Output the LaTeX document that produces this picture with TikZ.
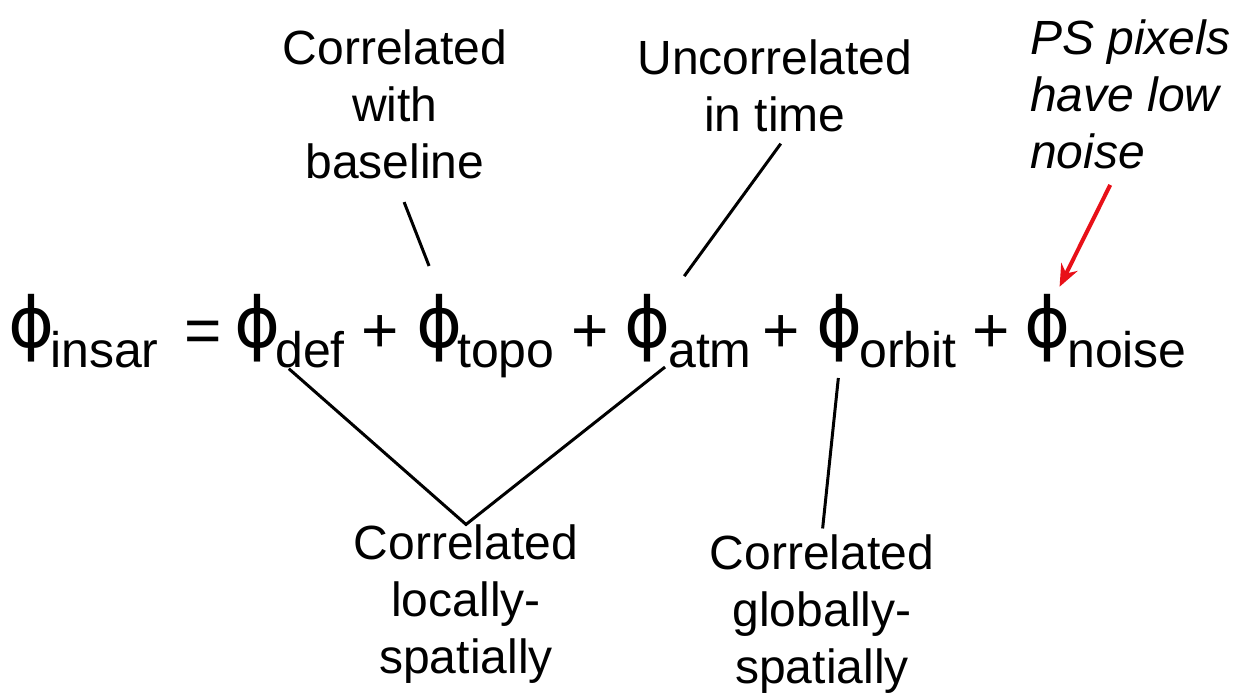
\documentclass[tikz,border=0pt]{standalone}
\usepackage{fontspec}
\setmainfont{Liberation Sans}
\newfontfamily\phifont{DejaVu Sans}
\usetikzlibrary{arrows.meta}
\definecolor{notered}{RGB}{232,16,24}

\begin{document}
\begin{tikzpicture}[x=1pt, y=-1pt,
    term/.style={font=\phifont\fontsize{70}{70}\selectfont, inner sep=0pt, anchor=center},
    sub/.style={font=\fontsize{50}{50}\selectfont, inner sep=0pt, anchor=base west},
    op/.style={font=\fontsize{64}{64}\selectfont, inner sep=0pt, anchor=base},
    note/.style={font=\fontsize{48}{57}\selectfont, align=center, inner sep=0pt},
    link/.style={line width=3pt}]
    \useasboundingbox (0,0) rectangle (1242,695);
    % equation
    \node[term] (phiinsar) at (32,328) {ϕ};
    \node[sub] (subinsar) at (50,367) {insar};
    \node[op] (eq) at (203,352) {=};
    \node[term] (phidef) at (258,328) {ϕ};
    \node[sub] (subdef) at (275,367) {def};
    \node[op] (plusa) at (380,352) {+};
    \node[term] (phitopo) at (440,328) {ϕ};
    \node[sub] (subtopo) at (457,367) {topo};
    \node[op] (plusb) at (590,352) {+};
    \node[term] (phiatm) at (648,328) {ϕ};
    \node[sub] (subatm) at (668,367) {atm};
    \node[op] (plusc) at (781,352) {+};
    \node[term] (phiorbit) at (840,328) {ϕ};
    \node[sub] (suborbit) at (859,367) {orbit};
    \node[op] (plusd) at (991,352) {+};
    \node[term] (phinoise) at (1048,328) {ϕ};
    \node[sub] (subnoise) at (1067,367) {noise};
    % notes
    \node[note] (withbase) at (395,104) {Correlated\\with\\baseline};
    \node[note] (intime) at (775,86) {Uncorrelated\\in time};
    \node[note, align=left, anchor=west, font=\itshape\fontsize{48}{57}\selectfont] (lownoise) at (1030,94) {PS pixels\\have low\\noise};
    \node[note] (locally) at (466,604) {Correlated\\locally-\\spatially};
    \node[note] (globally) at (822,614) {Correlated\\globally-\\spatially};
    % connectors
    \draw[link, shorten <=25pt, shorten >=30pt] (withbase.south) -- (phitopo.north);
    \draw[link, shorten <=14pt, shorten >=22pt] ([xshift=14pt]intime.south) -- (phiatm.north east);
    \draw[link, shorten <=10pt, shorten >=8pt] (phidef.south east) -- (locally.north) -- (phiatm.south east);
    \draw[link, shorten <=16pt, shorten >=6pt] (phiorbit.south) -- (globally.north);
    \draw[notered, line width=4pt, -{Stealth[length=22pt, width=18pt]}, shorten <=18pt, shorten >=8pt] ([xshift=-12pt]lownoise.south) -- ([xshift=8pt]phinoise.north);
\end{tikzpicture}
\end{document}
